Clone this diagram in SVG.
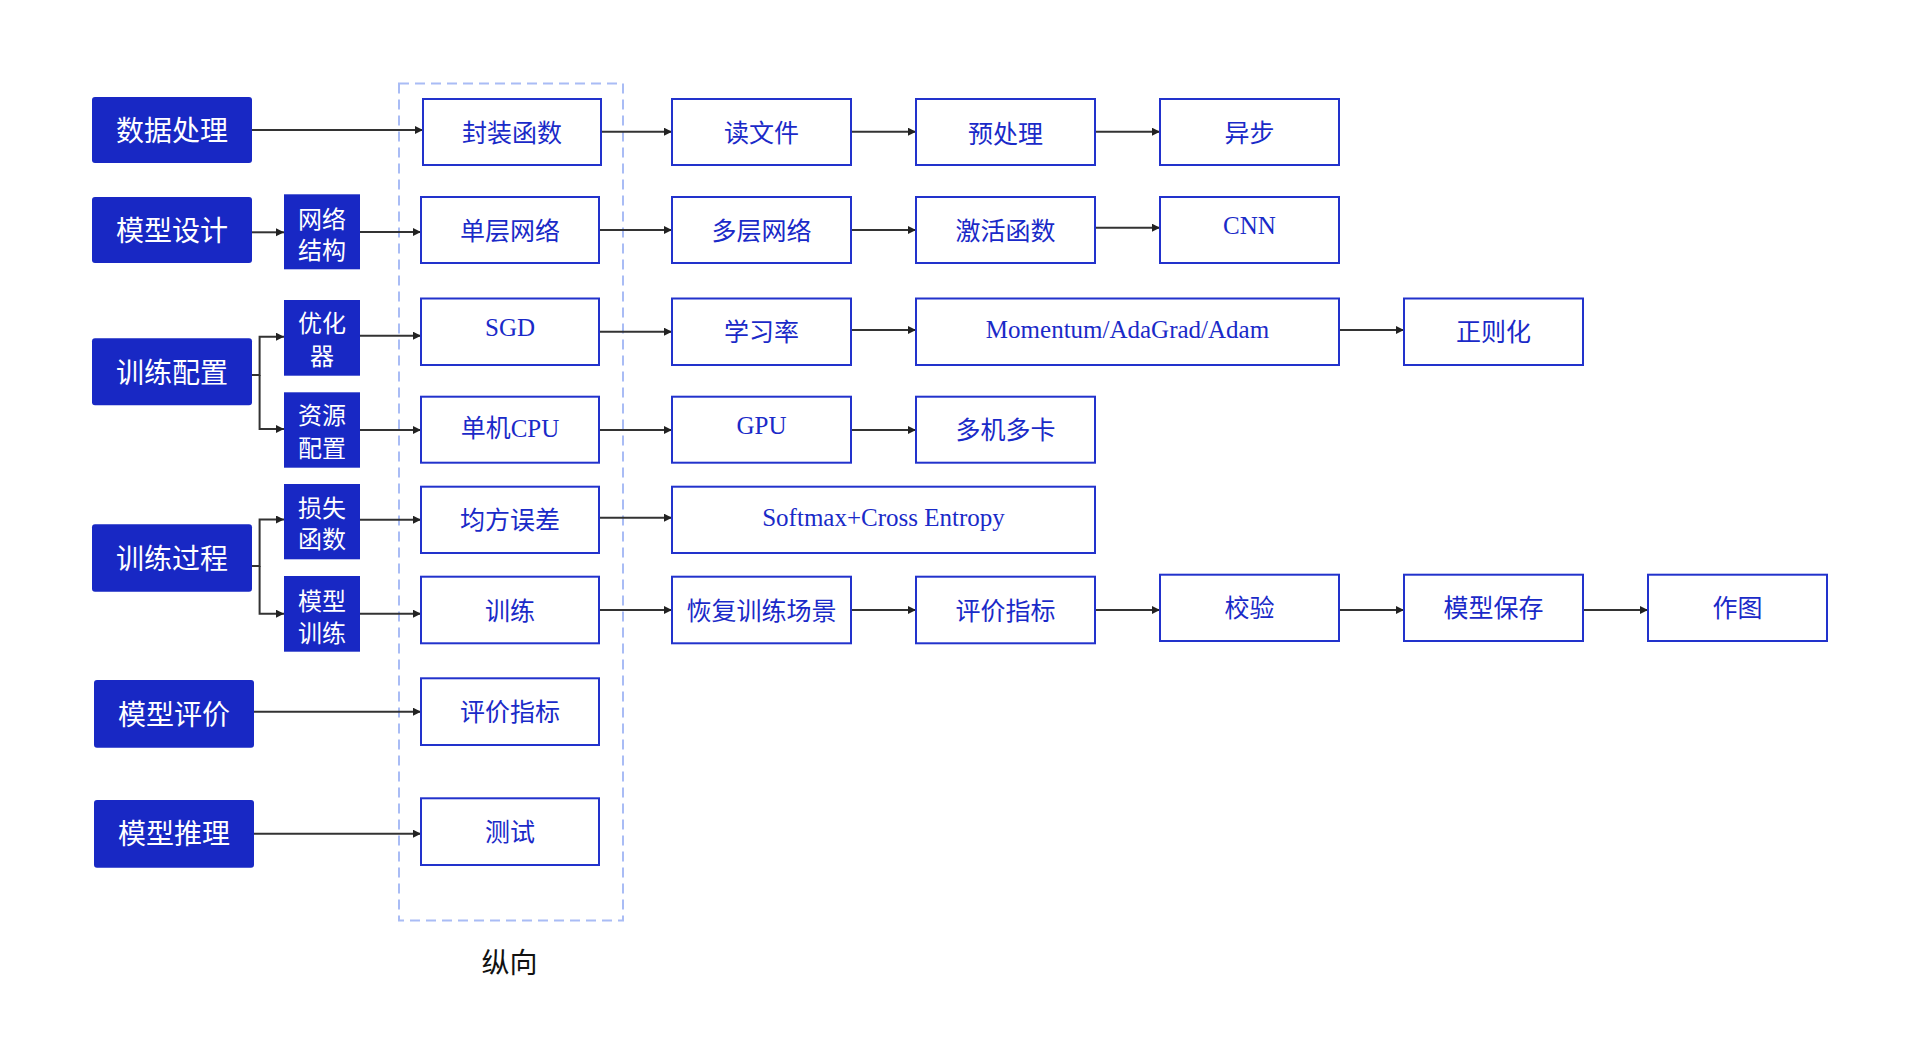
<svg xmlns="http://www.w3.org/2000/svg" width="1920" height="1058" viewBox="0 0 1920 1058">
  <style>
    .stage rect { fill: #1828c4; }
    .stage text { fill: #ffffff; font-family: "Noto Sans CJK SC", sans-serif; font-size: 28px; text-anchor: middle; }
    .sub rect { fill: #1828c4; }
    .sub text { fill: #ffffff; font-family: "Noto Sans CJK SC", sans-serif; font-size: 24px; text-anchor: middle; }
    .step rect { fill: #ffffff; stroke: #2232cc; stroke-width: 2; }
    .step text { fill: #1a2ac8; font-family: "Liberation Serif", "Noto Sans CJK SC", serif; font-size: 25px; text-anchor: middle; }
    .cjk text { font-family: "Noto Sans CJK SC", sans-serif; }
    .links path { fill: none; stroke: #333333; stroke-width: 2; }
    .group-frame { fill: none; stroke: #a9bcf5; stroke-width: 2; stroke-dasharray: 10 6; }
    .caption { fill: #111111; font-family: "Noto Sans CJK SC", sans-serif; font-size: 28px; text-anchor: middle; }
  </style>
  <defs>
    <marker id="arrow" markerUnits="userSpaceOnUse" markerWidth="9" markerHeight="9" refX="8" refY="4" orient="auto">
      <path d="M0,0 L8,4 L0,8 Z" fill="#222222"/>
    </marker>
  </defs>

  <rect width="1920" height="1058" fill="#ffffff"/>

  <!-- vertical grouping frame -->
  <rect class="group-frame" x="399" y="83.5" width="224" height="837"/>
  <text class="caption" x="509.5" y="972.5">纵向</text>

  <!-- connectors -->
  <g class="links" marker-end="url(#arrow)">
    <!-- row 1 -->
    <path d="M252,130 H423" marker-end="url(#arrow)"/>
    <path d="M601,131.7 H672" marker-end="url(#arrow)"/>
    <path d="M851,131.7 H916" marker-end="url(#arrow)"/>
    <path d="M1095,131.7 H1160" marker-end="url(#arrow)"/>
    <!-- row 2 -->
    <path d="M252,232.3 H284" marker-end="url(#arrow)"/>
    <path d="M360,232 H421" marker-end="url(#arrow)"/>
    <path d="M599,230 H672" marker-end="url(#arrow)"/>
    <path d="M851,230 H916" marker-end="url(#arrow)"/>
    <path d="M1095,227.7 H1160" marker-end="url(#arrow)"/>
    <!-- training configuration branches -->
    <path d="M252,375 H259.6 V336.7 H284" marker-end="url(#arrow)"/>
    <path d="M259.6,375 V429 H284" marker-end="url(#arrow)"/>
    <path d="M360,335.7 H421" marker-end="url(#arrow)"/>
    <path d="M599,331.7 H672" marker-end="url(#arrow)"/>
    <path d="M851,330 H916" marker-end="url(#arrow)"/>
    <path d="M1339,330 H1404" marker-end="url(#arrow)"/>
    <path d="M360,430 H421" marker-end="url(#arrow)"/>
    <path d="M599,430 H672" marker-end="url(#arrow)"/>
    <path d="M851,430 H916" marker-end="url(#arrow)"/>
    <!-- training process branches -->
    <path d="M252,566 H259.6 V519.5 H284" marker-end="url(#arrow)"/>
    <path d="M259.6,566 V613.7 H284" marker-end="url(#arrow)"/>
    <path d="M360,519.7 H421" marker-end="url(#arrow)"/>
    <path d="M599,517.7 H672" marker-end="url(#arrow)"/>
    <path d="M360,613.7 H421" marker-end="url(#arrow)"/>
    <path d="M599,610 H672" marker-end="url(#arrow)"/>
    <path d="M851,610 H916" marker-end="url(#arrow)"/>
    <path d="M1095,610 H1160" marker-end="url(#arrow)"/>
    <path d="M1339,610 H1404" marker-end="url(#arrow)"/>
    <path d="M1583,610 H1648" marker-end="url(#arrow)"/>
    <!-- evaluation / inference -->
    <path d="M254,711.7 H421" marker-end="url(#arrow)"/>
    <path d="M254,833.7 H421" marker-end="url(#arrow)"/>
  </g>

  <!-- stages -->
  <g id="stage-data" class="stage"><rect x="92" y="97" width="160" height="66" rx="3"/><text x="172" y="140.6">数据处理</text></g>
  <g id="stage-design" class="stage"><rect x="92" y="197" width="160" height="66" rx="3"/><text x="172" y="240.6">模型设计</text></g>
  <g id="stage-config" class="stage"><rect x="92" y="338.3" width="160" height="67" rx="3"/><text x="172" y="383.1">训练配置</text></g>
  <g id="stage-train" class="stage"><rect x="92" y="524.3" width="160" height="67.4" rx="3"/><text x="172" y="568.6">训练过程</text></g>
  <g id="stage-eval" class="stage"><rect x="94" y="680" width="160" height="67.7" rx="3"/><text x="174" y="724.8">模型评价</text></g>
  <g id="stage-infer" class="stage"><rect x="94" y="800" width="160" height="67.7" rx="3"/><text x="174" y="844.4">模型推理</text></g>

  <!-- sub-categories -->
  <g id="sub-net" class="sub"><rect x="284" y="194.3" width="76" height="75"/><text x="322" y="227.5">网络</text><text x="322" y="258.7">结构</text></g>
  <g id="sub-opt" class="sub"><rect x="284" y="300" width="76" height="75.7"/><text x="322" y="331.6">优化</text><text x="322" y="364.9">器</text></g>
  <g id="sub-res" class="sub"><rect x="284" y="392.3" width="76" height="75.4"/><text x="322" y="424.4">资源</text><text x="322" y="456.6">配置</text></g>
  <g id="sub-loss" class="sub"><rect x="284" y="484" width="76" height="75.3"/><text x="322" y="516.6">损失</text><text x="322" y="548.3">函数</text></g>
  <g id="sub-fit" class="sub"><rect x="284" y="576" width="76" height="75.7"/><text x="322" y="609.9">模型</text><text x="322" y="641.6">训练</text></g>

  <!-- row 1: data -->
  <g id="n-wrap" class="step cjk"><rect x="423" y="99" width="178" height="66"/><text x="512" y="141.5">封装函数</text></g>
  <g id="n-read" class="step cjk"><rect x="672" y="99" width="179" height="66"/><text x="761.5" y="141.5">读文件</text></g>
  <g id="n-pre" class="step cjk"><rect x="916" y="99" width="179" height="66"/><text x="1005.5" y="143.3">预处理</text></g>
  <g id="n-async" class="step cjk"><rect x="1160" y="99" width="179" height="66"/><text x="1249.5" y="141.5">异步</text></g>

  <!-- row 2: network -->
  <g id="n-single" class="step cjk"><rect x="421" y="197" width="178" height="66"/><text x="510" y="239.5">单层网络</text></g>
  <g id="n-multi" class="step cjk"><rect x="672" y="197" width="179" height="66"/><text x="761.5" y="239.5">多层网络</text></g>
  <g id="n-act" class="step cjk"><rect x="916" y="197" width="179" height="66"/><text x="1005.5" y="239.5">激活函数</text></g>
  <g id="n-cnn" class="step"><rect x="1160" y="197" width="179" height="66"/><text x="1249.5" y="234.3">CNN</text></g>

  <!-- row 3: optimizer -->
  <g id="n-sgd" class="step"><rect x="421" y="298.5" width="178" height="66.5"/><text x="510" y="336">SGD</text></g>
  <g id="n-lr" class="step cjk"><rect x="672" y="298.5" width="179" height="66.5"/><text x="761.5" y="341.3">学习率</text></g>
  <g id="n-adaptive" class="step"><rect x="916" y="298.5" width="423" height="66.5"/><text x="1127.5" y="338.3">Momentum/AdaGrad/Adam</text></g>
  <g id="n-reg" class="step cjk"><rect x="1404" y="298.5" width="179" height="66.5"/><text x="1493.5" y="341.3">正则化</text></g>

  <!-- row 4: resources -->
  <g id="n-cpu" class="step"><rect x="421" y="396.7" width="178" height="66"/><text x="510" y="437.3">单机CPU</text></g>
  <g id="n-gpu" class="step"><rect x="672" y="396.7" width="179" height="66"/><text x="761.5" y="434.3">GPU</text></g>
  <g id="n-multigpu" class="step cjk"><rect x="916" y="396.7" width="179" height="66"/><text x="1005.5" y="439.2">多机多卡</text></g>

  <!-- row 5: loss -->
  <g id="n-mse" class="step cjk"><rect x="421" y="486.7" width="178" height="66.3"/><text x="510" y="529.3">均方误差</text></g>
  <g id="n-ce" class="step"><rect x="672" y="486.7" width="423" height="66.3"/><text x="883.5" y="526">Softmax+Cross Entropy</text></g>

  <!-- row 6: training loop -->
  <g id="n-train" class="step cjk"><rect x="421" y="576.7" width="178" height="66.6"/><text x="510" y="619.5">训练</text></g>
  <g id="n-resume" class="step cjk"><rect x="672" y="576.7" width="179" height="66.6"/><text x="761.5" y="619.5">恢复训练场景</text></g>
  <g id="n-metric-train" class="step cjk"><rect x="916" y="576.7" width="179" height="66.6"/><text x="1005.5" y="619.5">评价指标</text></g>
  <g id="n-valid" class="step cjk"><rect x="1160" y="574.7" width="179" height="66.3"/><text x="1249.5" y="617.3">校验</text></g>
  <g id="n-save" class="step cjk"><rect x="1404" y="574.7" width="179" height="66.3"/><text x="1493.5" y="617.3">模型保存</text></g>
  <g id="n-plot" class="step cjk"><rect x="1648" y="574.7" width="179" height="66.3"/><text x="1737.5" y="617.3">作图</text></g>

  <!-- rows 7-8: evaluation and inference -->
  <g id="n-metric" class="step cjk"><rect x="421" y="678.3" width="178" height="66.7"/><text x="510" y="721.2">评价指标</text></g>
  <g id="n-test" class="step cjk"><rect x="421" y="798.3" width="178" height="66.7"/><text x="510" y="841.2">测试</text></g>
</svg>
